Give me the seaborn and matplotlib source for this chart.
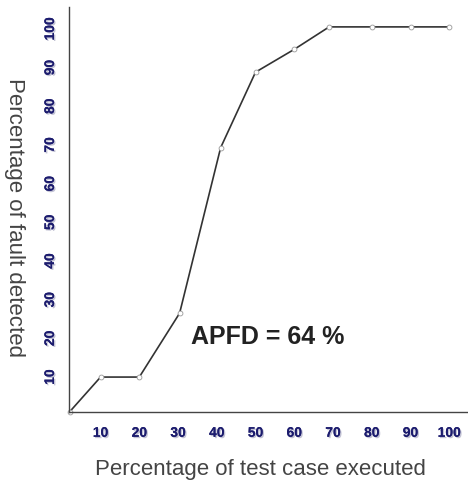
import matplotlib
matplotlib.use("Agg")
import matplotlib.pyplot as plt
import matplotlib.patheffects as pe
import seaborn as sns
import pandas as pd

# Data
pct_tests = [2, 10, 20, 30.4, 41, 50, 60, 69, 80, 90, 100]
pct_faults = [1, 10, 10, 26.5, 69.3, 88.8, 94.7, 100.5, 100.5, 100.5, 100.5]
x_ticks = [10, 20, 30, 40, 50, 60, 70, 80, 90, 100]
y_ticks = [10, 20, 30, 40, 50, 60, 70, 80, 90, 100]
annotation = "APFD = 64 %"
x_label = "Percentage of test case executed"
y_label = "Percentage of fault detected"

df = pd.DataFrame({"x": pct_tests, "y": pct_faults})

sns.set_style("white")
plt.rcParams["font.family"] = ["Liberation Sans", "DejaVu Sans"]

fig = plt.figure(figsize=(4.68, 4.84), dpi=100)
ax = fig.add_axes([0.147, 0.149, 0.851, 0.837])

sns.lineplot(data=df, x="x", y="y", ax=ax, color="#333333", linewidth=1.2,
             marker="o", markersize=3.5, markerfacecolor="white",
             markeredgecolor="#999999", markeredgewidth=0.6, clip_on=False)

ax.set_xlim(1.8, 104.6)
ax.set_ylim(1, 105.7)
ax.set_xticks(x_ticks)
ax.set_yticks(y_ticks)

for s in ["top", "right"]:
    ax.spines[s].set_visible(False)
for s in ["left", "bottom"]:
    ax.spines[s].set_color("#444444")
    ax.spines[s].set_linewidth(1.0)

ax.tick_params(axis="x", direction="inout", length=10, width=1, color="#444444", pad=5)
ax.tick_params(axis="y", direction="inout", length=5, width=1, color="#444444", pad=6)

shadow = [pe.withSimplePatchShadow(offset=(1, -1), shadow_rgbFace="#8888aa", alpha=0.5), pe.Normal()]
ax.set_xticklabels([str(v) for v in x_ticks], fontsize=10, fontweight="bold", color="#1c1c6e")
ax.set_yticklabels([str(v) for v in y_ticks], fontsize=10, fontweight="bold", color="#1c1c6e",
                   rotation=90, va="center")
for lbl in ax.get_xticklabels() + ax.get_yticklabels():
    lbl.set_path_effects(shadow)

ax.set_xlabel("")
ax.set_ylabel("")
fig.text(260 / 468, 1 - 470 / 484, x_label, fontsize=16, color="#444444",
         ha="center", va="center")
fig.text(14 / 468, 1 - 218 / 484, y_label, fontsize=16, color="#444444",
         ha="center", va="center", rotation=270)

ax.text(53.2, 20.3, annotation, fontsize=18, fontweight="bold", color="#222222",
        ha="center", va="center")

fig.savefig("out.png", dpi=100)
